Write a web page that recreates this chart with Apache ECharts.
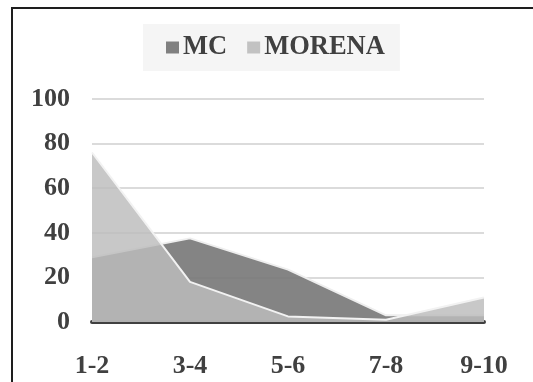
<!DOCTYPE html>
<html>
<head>
<meta charset="utf-8">
<script src="https://cdn.jsdelivr.net/npm/echarts@6/dist/echarts.min.js"></script>
<style>
  html, body { margin: 0; padding: 0; background: #fff; }
  #chart { width: 533px; height: 382px; }
</style>
</head>
<body>
<div id="chart"></div>
<script>
// Category labels along the x axis
const categories = ['1-2', '3-4', '5-6', '7-8', '9-10'];
// Series values (percent)
const mcValues = [29, 37.5, 23.5, 3, 3];
const morenaValues = [76, 18, 2.5, 1, 11];
// y-axis range and step
const yMin = 0;
const yMax = 100;
const yStep = 20;

const FONT = '"Liberation Serif", "Times New Roman", serif';
const TEXT = '#404040';

const chart = echarts.init(document.getElementById('chart'), null, { renderer: 'canvas' });

chart.setOption({
  backgroundColor: '#ffffff',
  animation: false,
  graphic: [{
    type: 'rect',
    shape: { x: 12, y: 8, width: 700, height: 600 },
    style: { fill: 'none', stroke: '#1e1e1e', lineWidth: 2 },
    silent: true
  }],
  legend: {
    left: 143,
    top: 24,
    padding: [10, 15, 10, 23],
    backgroundColor: '#f5f5f5',
    itemWidth: 13,
    itemHeight: 12,
    itemGap: 20,
    icon: 'rect',
    textStyle: { fontFamily: FONT, fontWeight: 'bold', fontSize: 26.5, color: TEXT, padding: [2, 0, 0, -1] },
    data: [
      { name: 'MC', itemStyle: { color: '#808080' } },
      { name: 'MORENA', itemStyle: { color: '#c2c2c2' } }
    ]
  },
  grid: { left: 92, right: 49, top: 99, bottom: 60 },
  xAxis: {
    type: 'category',
    data: categories,
    boundaryGap: false,
    axisLine: { show: true, lineStyle: { color: '#404040', width: 4 } },
    axisTick: { show: false },
    axisLabel: { fontFamily: FONT, fontWeight: 'bold', fontSize: 26, color: TEXT, margin: 31 },
    splitLine: { show: false }
  },
  yAxis: {
    type: 'value',
    min: yMin,
    max: yMax,
    interval: yStep,
    axisLine: { show: false },
    axisTick: { show: false },
    axisLabel: { fontFamily: FONT, fontWeight: 'bold', fontSize: 26, color: TEXT, margin: 22 },
    splitLine: { lineStyle: { color: '#cfcfcf', width: 1.5 } }
  },
  series: [
    {
      name: 'MC',
      type: 'line',
      data: mcValues,
      symbol: 'none',
      z: 2,
      lineStyle: { color: '#eeeeee', width: 2 },
      itemStyle: { color: '#808080' },
      areaStyle: { color: '#777777', opacity: 0.9 }
    },
    {
      name: 'MORENA',
      type: 'line',
      data: morenaValues,
      symbol: 'none',
      z: 3,
      lineStyle: { color: '#f2f2f2', width: 2 },
      itemStyle: { color: '#c2c2c2' },
      areaStyle: { color: '#bdbdbd', opacity: 0.83 }
    }
  ]
});
</script>
</body>
</html>
